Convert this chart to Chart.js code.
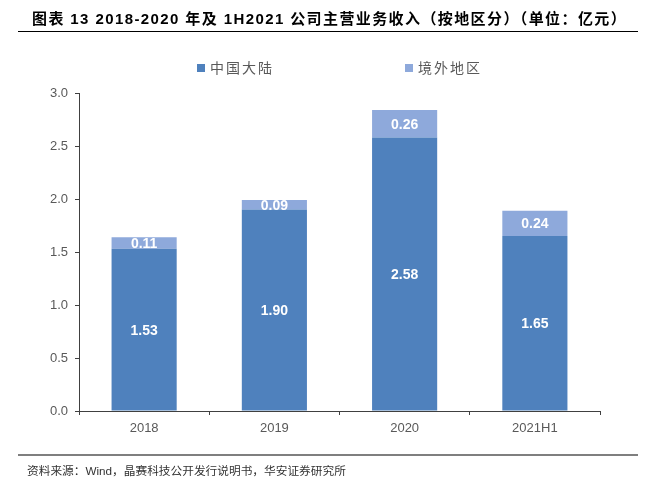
<!DOCTYPE html>
<html><head><meta charset="utf-8">
<script src="https://cdn.jsdelivr.net/npm/chart.js@4"></script>
<style>
html,body{margin:0;padding:0;background:#fff;width:647px;height:482px;overflow:hidden;}
#wrap{position:relative;width:647px;height:482px;}
canvas{position:absolute;left:0;top:0;}
.title{position:absolute;left:32px;top:7px;font:bold 15px "Liberation Sans","Noto Sans CJK SC",sans-serif;color:#000;white-space:nowrap;letter-spacing:1.4px;}
.tline{position:absolute;left:18px;top:31px;width:620px;height:1px;background:#000;}
.fline{position:absolute;left:18px;top:454px;width:620px;height:2px;background:#7f7f7f;}
.foot{position:absolute;left:27px;top:461px;font:11.7px "Liberation Sans","Noto Sans CJK SC",sans-serif;color:#333;white-space:nowrap;}
.leg{position:absolute;top:57px;font:14px "Noto Sans CJK SC",sans-serif;color:#595959;white-space:nowrap;letter-spacing:2px;}
.leg i{display:inline-block;width:8px;height:8px;margin-right:5px;vertical-align:1px;}
</style></head>
<body><div id="wrap">
<canvas id="c" width="647" height="482"></canvas>
<div class="title">图表 13 2018-2020 年及 1H2021 公司主营业务收入（按地区分）（单位：亿元）</div>
<div class="tline"></div>
<div class="leg" style="left:197px"><i style="background:#4F81BD"></i>中国大陆</div>
<div class="leg" style="left:405px"><i style="background:#8EA9DB"></i>境外地区</div>
<div class="fline"></div>
<div class="foot">资料来源：Wind，晶赛科技公开发行说明书，华安证券研究所</div>
</div>
<script>
const categories = ["2018", "2019", "2020", "2021H1"];
const seriesNames = ["中国大陆", "境外地区"];
const mainland = [1.53, 1.90, 2.58, 1.65];
const overseas = [0.11, 0.09, 0.26, 0.24];
const yTicks = [0, 0.5, 1.0, 1.5, 2.0, 2.5, 3.0];

const labelPlugin = {
  id: 'segLabels',
  afterDatasetsDraw(chart) {
    const ctx = chart.ctx;
    ctx.save();
    ctx.fillStyle = '#ffffff';
    ctx.font = 'bold 14px "Liberation Sans", Arial, sans-serif';
    ctx.textAlign = 'center';
    ctx.textBaseline = 'middle';
    chart.data.datasets.forEach((ds, di) => {
      const meta = chart.getDatasetMeta(di);
      meta.data.forEach((bar, i) => {
        const y = (bar.y + bar.base) / 2;
        ctx.fillText(ds.data[i].toFixed(2), bar.x, y + 1);
      });
    });
    ctx.restore();
  }
};

new Chart(document.getElementById('c'), {
  type: 'bar',
  data: {
    labels: categories,
    datasets: [
      { label: seriesNames[0], data: mainland, backgroundColor: '#4F81BD', barPercentage: 0.5, categoryPercentage: 1.0 },
      { label: seriesNames[1], data: overseas, backgroundColor: '#8EA9DB', barPercentage: 0.5, categoryPercentage: 1.0 }
    ]
  },
  options: {
    responsive: false,
    animation: false,
    devicePixelRatio: 1,
    layout: { padding: { left: 30, top: 93, right: 47, bottom: 41 } },
    plugins: { legend: { display: false }, tooltip: { enabled: false } },
    scales: {
      x: {
        stacked: true,
        afterFit(s) { s.height = 30; },
        grid: { drawOnChartArea: false, tickLength: 4, color: '#404040', offset: true },
        border: { color: '#404040', width: 1 },
        ticks: { color: '#595959', font: { family: '"Liberation Sans", Arial, sans-serif', size: 13 }, padding: 6 }
      },
      y: {
        stacked: true,
        min: 0, max: 3,
        afterFit(s) { s.width = 49; },
        afterBuildTicks(s) { s.ticks = yTicks.map(v => ({ value: v })); },
        grid: { drawOnChartArea: false, tickLength: 4, color: '#404040' },
        border: { color: '#404040', width: 1 },
        ticks: { color: '#595959', font: { family: '"Liberation Sans", Arial, sans-serif', size: 13 }, padding: 7,
          callback: v => Number(v).toFixed(1) }
      }
    }
  },
  plugins: [labelPlugin]
});
</script>
</body></html>
